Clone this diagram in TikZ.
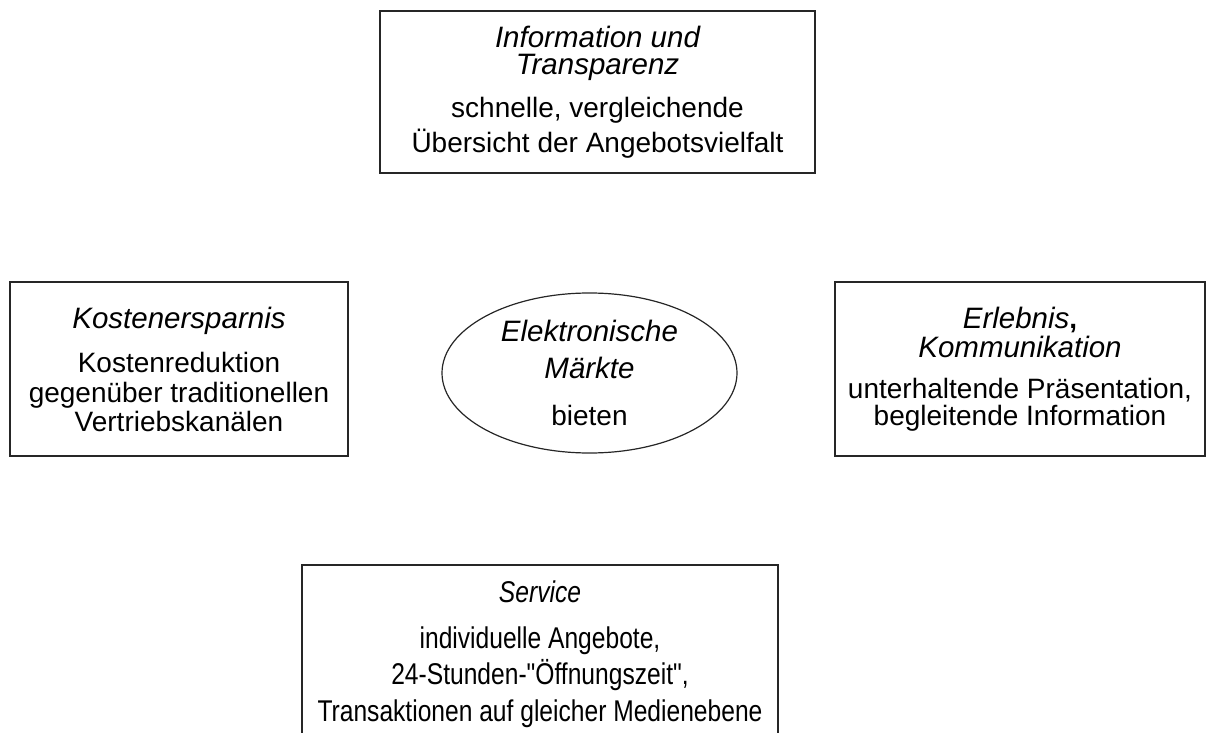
\documentclass[tikz,border=0pt]{standalone}
\usepackage{fontspec}
\setmainfont{Liberation Sans}
\newfontfamily\narrowsans[FakeStretch=0.82]{Liberation Sans}
\usetikzlibrary{shapes.geometric}
\newcommand\tightlines{\lineskiplimit=-40pt\relax}
\newcommand\hd[1]{{\fontsize{29.5}{30}\selectfont\itshape #1}}
\begin{document}
\begin{tikzpicture}[x=1pt,y=-1pt,
  frame/.style={draw=black!85, line width=1.2pt, align=center, inner sep=0pt,
    font=\tightlines\fontsize{28}{30}\selectfont},
  box/.style={frame, rectangle},
  oval/.style={frame, ellipse}]
\useasboundingbox (0,0) rectangle (1211,733);
\node[box, minimum width=435pt, minimum height=162pt] (info) at (597.5,92)
  {\hd{Information und}\\[-3pt]\hd{Transparenz}\\[13pt]schnelle, vergleichende\\[5pt]Übersicht der Angebotsvielfalt};
\node[box, minimum width=338pt, minimum height=174pt] (kosten) at (179,369)
  {\hd{Kostenersparnis}\\[14pt]Kostenreduktion\\gegenüber traditionellen\\[-1pt]Vertriebskanälen};
\node[oval, minimum width=295pt, minimum height=160pt] (markt) at (589.5,373)
  {\hd{Elektronische}\\[7pt]\hd{Märkte}\\[17pt]bieten};
\node[box, minimum width=370pt, minimum height=174pt] (erlebnis) at (1020,369)
  {\hd{Erlebnis}\textbf{,}\\[-1pt]\hd{Kommunikation}\\[11pt]unterhaltende Präsentation,\\[-3pt]begleitende Information};
\node[box, minimum width=476pt, minimum height=178pt,
  font=\tightlines\narrowsans\fontsize{30}{36}\selectfont] (service) at (540,654)
  {\textit{Service}\\[10pt]individuelle Angebote,\\24-Stunden-"Öffnungszeit",\\[1pt]Transaktionen auf gleicher Medienebene};
\end{tikzpicture}
\end{document}
